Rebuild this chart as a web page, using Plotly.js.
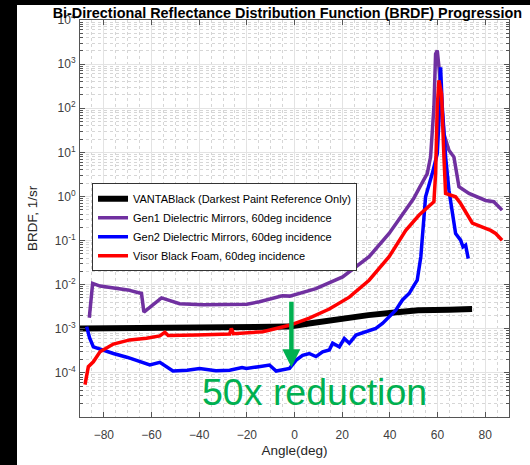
<!DOCTYPE html>
<html><head><meta charset="utf-8">
<script src="https://cdn.plot.ly/plotly-3.0.1.min.js"></script>
<style>
html,body{margin:0;padding:0;background:#000;width:530px;height:465px;overflow:hidden}
#chart{position:absolute;left:17px;top:5px;width:513px;height:460px;background:#fff}
</style>
</head><body><div id="chart"></div>
<script>
// ---- data (angle in deg, BRDF in 1/sr) ----
const vantaAngle = [-90, -60, -30, -10, -2, 6, 19, 31, 44, 52, 65, 74.5];
const vantaBRDF  = [1.02e-3, 1.03e-3, 1.05e-3, 1.07e-3, 1.12e-3, 1.32e-3, 1.7e-3, 2.04e-3, 2.4e-3, 2.63e-3, 2.7e-3, 2.8e-3];

const gen1Angle = [-86.1, -84.7, -81.6, -75, -70, -64.2, -63.2, -55.8, -52, -48.2, -38.5, -27.2, -20, -14.7, -5.1, -2, 9, 20.2, 31.3, 39.7, 46.7, 50, 52.5, 55.7, 57.1, 58.5, 59.2, 59.9, 60.9, 62.7, 64.8, 66.9, 69, 73.2, 80.2, 83.6, 87.1];
const gen1BRDF  = [1.78e-3, 1.07e-2, 9.3e-3, 8.5e-3, 7.6e-3, 6.3e-3, 2.4e-3, 5.0e-3, 4.2e-3, 3.7e-3, 3.5e-3, 3.5e-3, 3.6e-3, 4.1e-3, 5.6e-3, 5.5e-3, 8.1e-3, 1.5e-2, 4.3e-2, 0.145, 0.49, 0.9, 1.6, 3.3, 7.9, 107, 1700, 2040, 600, 26, 11.2, 7.8, 1.66, 1.17, 0.81, 0.76, 0.49];

const gen2Angle = [-87.2, -86, -84.4, -80, -76, -70, -62.1, -60.7, -56.5, -54, -51, -45, -39.8, -33, -27.2, -22, -20.2, -15, -10.5, -7.7, -4, -2.1, 0.7, 3.4, 6.2, 9.0, 11.8, 14.6, 16.0, 18.8, 20.9, 23.0, 25.8, 30.0, 34.1, 36.9, 39.7, 42.5, 45.3, 48.1, 50.2, 51.5, 53.0, 54.4, 55.0, 57.8, 59.9, 60.9, 61.3, 62.0, 63.4, 64.8, 66.2, 67.6, 69.7, 70.7, 71.8, 72.9];
const gen2BRDF  = [1.12e-3, 6.3e-4, 3.9e-4, 3.2e-4, 2.75e-4, 2.24e-4, 1.66e-4, 1.51e-4, 1.74e-4, 1.38e-4, 1.10e-4, 1.15e-4, 1.26e-4, 1.12e-4, 1.15e-4, 1.32e-4, 1.26e-4, 1.38e-4, 1.51e-4, 1.10e-4, 1.2e-4, 1.26e-4, 1.95e-4, 2.5e-4, 2.75e-4, 2.34e-4, 3.0e-4, 3.3e-4, 4.7e-4, 3.9e-4, 6.0e-4, 4.7e-4, 7.2e-4, 8.5e-4, 1.02e-3, 1.32e-3, 1.86e-3, 2.63e-3, 4.5e-3, 6.3e-3, 9.8e-3, 1.26e-2, 4.3e-2, 0.29, 0.98, 3.3, 9.3, 107, 850, 107, 7.9, 1.38, 0.41, 0.145, 0.102, 0.072, 0.079, 0.039];

const foamAngle = [-87.9, -86.5, -84.4, -81.6, -76, -69.1, -62.1, -56.5, -54.4, -53, -41.2, -27.2, -26.5, -25.6, -13.3, -2.1, 6.2, 14.6, 23, 31.3, 39.7, 46.7, 52.3, 58.5, 59.2, 59.9, 60.6, 61.7, 62.7, 63.4, 67.6, 69.7, 74.6, 77.4, 82.3, 84.4, 87.1];
const foamBRDF  = [5.4e-5, 1.38e-4, 1.78e-4, 3.0e-4, 4.5e-4, 5.6e-4, 6.1e-4, 6.9e-4, 8.3e-4, 7.0e-4, 7.2e-4, 7.6e-4, 1.02e-3, 7.7e-4, 8.6e-4, 1.2e-3, 1.75e-3, 2.8e-3, 5.2e-3, 1.26e-2, 4.3e-2, 0.17, 0.38, 0.76, 3.3, 107, 430, 210, 7.9, 1.17, 0.98, 0.69, 0.25, 0.22, 0.17, 0.145, 0.102];

const seriesNames = [
  'VANTABlack (Darkest Paint Reference Only)',
  'Gen1 Dielectric Mirrors, 60deg incidence',
  'Gen2 Dielectric Mirrors, 60deg incidence',
  'Visor Black Foam, 60deg incidence'
];
const xTickVals = [-80, -60, -40, -20, 0, 20, 40, 60, 80];
const yTickVals = [1e-4, 1e-3, 1e-2, 1e-1, 1e0, 1e1, 1e2, 1e3, 1e4];
const yTickText = ['10<sup>-4</sup>','10<sup>-3</sup>','10<sup>-2</sup>','10<sup>-1</sup>','10<sup>0</sup>','10<sup>1</sup>','10<sup>2</sup>','10<sup>3</sup>','10<sup>4</sup>'];
const annotationText = '50x reduction';

// minor log ticks 2..9 per decade
const yMinor = [];
for (let e = -5; e < 4; e++) for (let m = 2; m <= 9; m++) yMinor.push(m * Math.pow(10, e));

const FONT = '"Liberation Sans", Arial, Helvetica, sans-serif';
const mk = (x, y, name, color, w) => ({
  x: x, y: y, name: name, type: 'scatter', mode: 'lines',
  line: {color: color, width: w}
});
const traces = [
  mk(vantaAngle, vantaBRDF, seriesNames[0], '#000000', 6),
  mk(gen1Angle, gen1BRDF, seriesNames[1], '#7030A0', 3.5),
  mk(gen2Angle, gen2BRDF, seriesNames[2], '#0000FF', 3.5),
  mk(foamAngle, foamBRDF, seriesNames[3], '#FF0000', 3.5)
];

const axCommon = {
  showline: true, linecolor: '#555', linewidth: 1, mirror: 'allticks',
  ticks: 'inside', ticklen: 5, tickcolor: '#555', tickwidth: 1,
  showgrid: true, gridcolor: '#e3e3e3', gridwidth: 1, zeroline: false,
  tickfont: {family: FONT, size: 12, color: '#404040'}
};

const layout = {
  width: 513, height: 460,
  paper_bgcolor: '#ffffff', plot_bgcolor: '#ffffff',
  margin: {l: 63, r: 21, t: 15, b: 48},
  font: {family: FONT},
  title: {text: '<b>Bi-Directional Reflectance Distribution Function (BRDF) Progression</b>',
          font: {family: FONT, size: 14.4, color: '#000'},
          x: 0.527, xanchor: 'center', xref: 'container',
          y: 0.983, yanchor: 'middle', yref: 'container'},
  xaxis: Object.assign({}, axCommon, {
    range: [-90, 90], tickmode: 'array', tickvals: xTickVals, ticklabelstandoff: 7,
    minor: {dtick: 5, tick0: 0, showgrid: true, griddash: 'dot', gridcolor: '#d6d6d6', ticks: ''},
    title: {text: 'Angle(deg)', font: {family: FONT, size: 13.5, color: '#262626'}, standoff: 4}
  }),
  yaxis: Object.assign({}, axCommon, {
    type: 'log', range: [-5, 4], tickmode: 'array', tickvals: yTickVals, ticktext: yTickText,
    ticklabelstandoff: 1,
    minor: {tickmode: 'array', tickvals: yMinor, showgrid: true, griddash: 'dot', gridcolor: '#d6d6d6',
            ticks: 'inside', ticklen: 3, tickcolor: '#555'},
    title: {text: 'BRDF, 1/sr', font: {family: FONT, size: 13.5, color: '#262626'}, standoff: 14}
  }),
  showlegend: true,
  legend: {x: 0.028, y: 0.589, xanchor: 'left', yanchor: 'top', itemwidth: 30,
           bgcolor: '#ffffff', bordercolor: '#333', borderwidth: 1,
           font: {family: FONT, size: 11, color: '#000'}, tracegroupgap: 0},
  annotations: [
    {x: -1.3, y: -3.87, xref: 'x', yref: 'y', text: '', showarrow: true,
     ax: 0, ay: -67, arrowcolor: '#00B050', arrowwidth: 4.5, arrowhead: 2, arrowsize: 0.8, standoff: 0},
    {x: 8.5, y: -4.43, xref: 'x', yref: 'y', text: annotationText, showarrow: false,
     xanchor: 'center', yanchor: 'middle',
     font: {family: FONT, size: 37.5, color: '#00B050'}}
  ]
};

Plotly.newPlot('chart', traces, layout, {displayModeBar: false, staticPlot: true});
</script>
</body></html>
